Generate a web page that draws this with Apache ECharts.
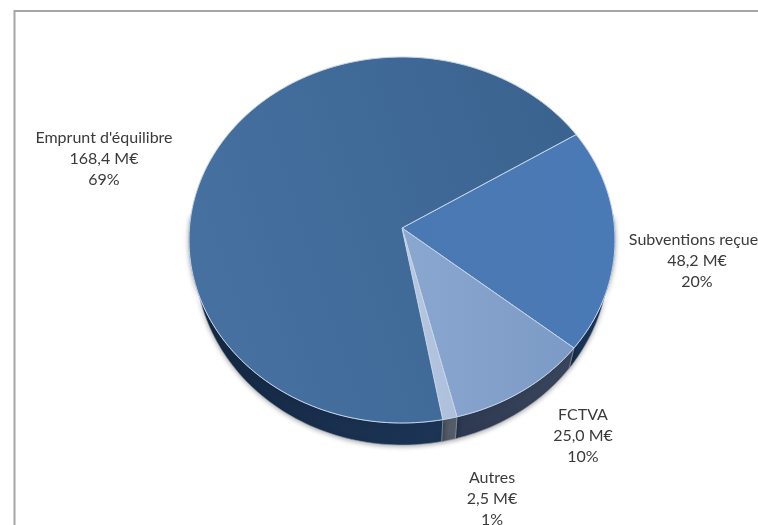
<!DOCTYPE html>
<html>
<head>
<meta charset="utf-8">
<style>html,body{margin:0;padding:0;background:#fff;overflow:hidden}#c{width:758px;height:525px}</style>
<script src="https://cdn.jsdelivr.net/npm/echarts@6/dist/echarts.min.js"></script>
</head>
<body>
<div id="c"></div>
<script>
// Data
const categories = ["Subventions reçues", "FCTVA", "Autres", "Emprunt d'équilibre"];
const amounts = [48.2, 25.0, 2.5, 168.4];
const amountLabels = ["48,2 M€", "25,0 M€", "2,5 M€", "168,4 M€"];
const percentLabels = ["20%", "10%", "1%", "69%"];

// Styling and layout
const topColors = [
  ["#4a78b3", "#4a7ab5"],
  ["#8aa7d0", "#7b9ac5"],
  ["#b6c7e1", "#aebfdc"],
  ["#3a628f", "#45709f"]
];
const wallColors = [
  ["#1f3c62", "#17304f"],
  ["#3a465d", "#2d3950"],
  ["#5a616d", "#4d5563"],
  ["#1c3556", "#142742"]
];
const labelCentres = [[697, 261], [583, 436], [492, 499], [104, 159]];
const startAngle = -32;
const apex = [402, 228];
const topEllipse = { cx: 402, cy: 240, rx: 213, ry: 183 };
const baseEllipse = { cx: 402, cy: 258, rx: 207, ry: 187 };

const total = amounts.reduce((a, b) => a + b, 0);
const starts = [];
amounts.reduce((acc, v, i) => { starts[i] = acc; return acc + v / total * 360; }, startAngle);

// Perspective: the pie's true centre (apex) sits above the centre of the rim ellipse.
// Convert a true angle around the apex into the rim ellipse's own parameter.
const apexOffset = (apex[1] - topEllipse.cy) / topEllipse.ry;
function rimParam(deg) {
  const a = deg * Math.PI / 180, dx = Math.cos(a), dy = Math.sin(a);
  const pd = apexOffset * dy;
  const s = -pd + Math.sqrt(pd * pd - (apexOffset * apexOffset - 1));
  let t = Math.atan2(apexOffset + s * dy, s * dx) * 180 / Math.PI;
  while (t < deg - 180) t += 360;
  while (t > deg + 180) t -= 360;
  return t;
}

function arc(e, t0, t1) {
  const pts = [];
  const n = Math.max(2, Math.ceil(Math.abs(t1 - t0) / 1.5));
  for (let k = 0; k <= n; k++) {
    const t = (t0 + (t1 - t0) * k / n) * Math.PI / 180;
    pts.push([e.cx + e.rx * Math.cos(t), e.cy + e.ry * Math.sin(t)]);
  }
  return pts;
}

function renderSlice(params, api) {
  const i = params.dataIndex;
  const t0 = rimParam(starts[i]);
  const t1 = rimParam(starts[i] + api.value(0) / total * 360);
  const children = [];

  // Visible front wall: only the part of the slice on the lower half
  const w0 = Math.max(t0, -8), w1 = Math.min(t1, 188);
  if (w1 > w0) {
    const wall = arc(topEllipse, w0, w1).concat(arc(baseEllipse, w0, w1).reverse());
    children.push({
      type: 'polygon', z2: 1,
      shape: { points: wall },
      style: {
        fill: new echarts.graphic.LinearGradient(1, 0, 0, 0, [
          { offset: 0, color: wallColors[i][0] }, { offset: 1, color: wallColors[i][1] }
        ]),
        stroke: '#8f9aab', lineWidth: 0.6,
        shadowBlur: 5, shadowColor: 'rgba(0,0,0,0.35)', shadowOffsetY: 1
      }
    });
  }

  children.push({
    type: 'polygon', z2: 2,
    shape: { points: [apex].concat(arc(topEllipse, t0, t1)) },
    style: {
      fill: new echarts.graphic.LinearGradient(1, 0, 0, i === 3 ? 0.35 : 0, [
        { offset: 0, color: topColors[i][1] }, { offset: 1, color: topColors[i][0] }
      ].map((s, k) => i === 3 ? { offset: s.offset, color: topColors[i][k] } : s)),
      stroke: '#c7d5ea', lineWidth: 1, lineJoin: 'round'
    }
  });

  children.push({
    type: 'text', z2: 3,
    style: {
      text: categories[i] + '\n' + amountLabels[i] + '\n' + percentLabels[i],
      x: labelCentres[i][0], y: labelCentres[i][1],
      align: 'center', verticalAlign: 'middle',
      fill: '#3a3a3a', fontFamily: 'Lato', fontSize: 16, lineHeight: 21
    }
  });
  return { type: 'group', children };
}

const chart = echarts.init(document.getElementById('c'), null, { renderer: 'canvas' });
chart.setOption({
  animation: false,
  backgroundColor: '#ffffff',
  graphic: [{
    type: 'polyline',
    shape: { points: [[14.5, 525], [14.5, 11], [758, 11]] },
    style: { stroke: '#a6a6a6', lineWidth: 2, fill: null }
  }],
  series: [{
    type: 'custom',
    coordinateSystem: 'none',
    renderItem: renderSlice,
    data: amounts.map((v, i) => ({ name: categories[i], value: [v] }))
  }]
});
</script>
</body>
</html>
